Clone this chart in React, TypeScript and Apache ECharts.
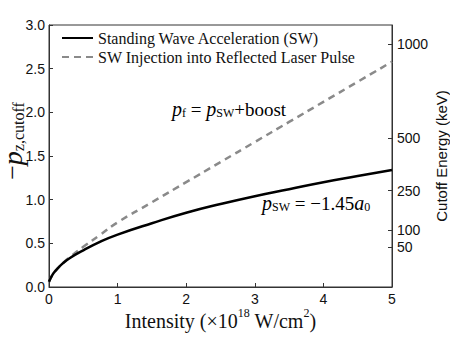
import React, { useEffect, useRef } from "react";
import * as echarts from "echarts";

const intensity = [0, 0.05, 0.1, 0.2, 0.3, 0.5, 0.75, 1, 1.5, 2, 2.5, 3, 3.5, 4, 4.5, 5];
const swValues = [0.06, 0.14, 0.19, 0.27, 0.33, 0.42, 0.52, 0.6, 0.73, 0.85, 0.95, 1.04, 1.12, 1.2, 1.27, 1.34];
const injectionValues = [0.06, 0.14, 0.19, 0.27, 0.34, 0.46, 0.6, 0.74, 0.97, 1.2, 1.43, 1.66, 1.89, 2.12, 2.35, 2.58];
const energyTicks = [50, 100, 250, 500, 1000];
const seriesNames = ["Standing Wave Acceleration (SW)", "SW Injection into Reflected Laser Pulse"];
const REST_ENERGY_KEV = 511;

const energyToMomentum = (e: number) => Math.sqrt(Math.pow(1 + e / REST_ENERGY_KEV, 2) - 1);
const momentumToEnergy = (p: number) => REST_ENERGY_KEV * (Math.sqrt(1 + p * p) - 1);

const SERIF = "'Liberation Serif', 'DejaVu Serif', serif";
const SANS = "'Liberation Sans', Arial, sans-serif";

const mathRich = {
  p: { fontFamily: SERIF, fontSize: 20, fontStyle: "italic", color: "#111", lineHeight: 24, verticalAlign: "bottom" },
  s: { fontFamily: SERIF, fontSize: 12, color: "#111", lineHeight: 19, verticalAlign: "bottom" },
  t: { fontFamily: SERIF, fontSize: 19, color: "#111", lineHeight: 24, verticalAlign: "bottom" },
};

export default function App() {
  const ref = useRef<HTMLDivElement>(null);
  useEffect(() => {
    if (!ref.current) return;
    const chart = echarts.init(ref.current, null, { renderer: "svg" });
    const tickP = energyTicks.map(energyToMomentum);
    chart.setOption({
      animation: false,
      backgroundColor: "#fff",
      textStyle: { fontFamily: SERIF },
      grid: {
        left: 49,
        right: 58,
        top: 25,
        bottom: 52,
        containLabel: false,
        outerBoundsMode: "none",
        show: true,
        borderColor: "#333",
        borderWidth: 1,
        backgroundColor: "transparent",
      },
      legend: {
        orient: "vertical",
        left: 56,
        top: 25,
        itemWidth: 31,
        itemHeight: 10,
        itemGap: 3,
        itemStyle: { opacity: 0 },
        textStyle: { fontFamily: SERIF, fontSize: 16, color: "#111", lineHeight: 14 },
        data: seriesNames,
      },
      xAxis: {
        type: "value",
        min: 0,
        max: 5,
        interval: 1,
        axisLine: { show: true, lineStyle: { color: "#333" } },
        axisTick: { show: true, inside: true, length: 4, lineStyle: { color: "#333" } },
        splitLine: { show: false },
        axisLabel: { fontFamily: SANS, fontSize: 14, color: "#111", margin: 5 },
        name: "{t|Intensity (×10}{sup|18}{t| W/cm}{sup|2}{t|)}",
        nameLocation: "middle",
        nameGap: 20,
        nameMoveOverlap: false,
        nameTextStyle: {
          rich: {
            t: { fontFamily: SERIF, fontSize: 20, color: "#111", lineHeight: 24, verticalAlign: "bottom" },
            sup: { fontFamily: SERIF, fontSize: 12, color: "#111", lineHeight: 24, verticalAlign: "top" },
          },
        },
      },
      yAxis: [
        {
          type: "value",
          min: 0,
          max: 3,
          interval: 0.5,
          axisLine: { show: true, lineStyle: { color: "#333" } },
          axisTick: { show: true, inside: true, length: 4, lineStyle: { color: "#333" } },
          splitLine: { show: false },
          axisLabel: {
            fontFamily: SANS,
            fontSize: 14,
            color: "#111",
            margin: 4,
            formatter: (v: number) => v.toFixed(1),
          },
          name: "{m|−}{p|p}{s|z,cutoff}",
          nameLocation: "middle",
          nameGap: 23,
          nameMoveOverlap: false,
          nameRotate: 90,
          nameTextStyle: {
            padding: [0, 0, 0, 30],
            rich: {
              m: { fontFamily: SERIF, fontSize: 26, color: "#111", lineHeight: 28, verticalAlign: "middle" },
              p: { fontFamily: SERIF, fontSize: 28, fontStyle: "italic", color: "#111", lineHeight: 28, verticalAlign: "middle" },
              s: { fontFamily: SERIF, fontSize: 16, color: "#111", lineHeight: 16, verticalAlign: "bottom", padding: [12, 0, 0, 0] },
            },
          },
        },
        {
          type: "value",
          position: "right",
          min: 0,
          max: 3,
          axisLine: { show: true, lineStyle: { color: "#333" } },
          axisTick: { show: true, inside: true, length: 4, customValues: tickP, lineStyle: { color: "#333" } },
          splitLine: { show: false },
          axisLabel: {
            fontFamily: SANS,
            fontSize: 14,
            color: "#111",
            margin: 5,
            customValues: tickP,
            formatter: (v: number) => {
              const e = momentumToEnergy(v);
              let best = energyTicks[0];
              energyTicks.forEach((t) => {
                if (Math.abs(t - e) < Math.abs(best - e)) best = t;
              });
              return String(best);
            },
          },
          name: "Cutoff Energy (keV)",
          nameLocation: "middle",
          nameGap: 42,
          nameMoveOverlap: false,
          nameRotate: 90,
          nameTextStyle: { fontFamily: SANS, fontSize: 15, color: "#111" },
        },
      ],
      series: [
        {
          name: seriesNames[0],
          type: "line",
          smooth: true,
          symbol: "none",
          data: intensity.map((x, i) => [x, swValues[i]]),
          lineStyle: { color: "#000", width: 2.5 },
          itemStyle: { color: "#000" },
          z: 3,
        },
        {
          name: seriesNames[1],
          type: "line",
          smooth: true,
          symbol: "none",
          data: intensity.map((x, i) => [x, injectionValues[i]]),
          lineStyle: { color: "#8a8a8a", width: 2.5, type: [7, 5] },
          itemStyle: { color: "#8a8a8a" },
          z: 2,
        },
      ],
      graphic: [
        {
          type: "text",
          left: 172,
          top: 99,
          style: { text: "{p|p}{s|f}{t| = }{p|p}{s|SW}{t|+boost}", rich: mathRich },
        },
        {
          type: "text",
          left: 262,
          top: 193,
          style: { text: "{p|p}{s|SW}{t| = −1.45}{p|a}{s|0}", rich: mathRich },
        },
      ],
    });
    return () => chart.dispose();
  }, []);
  return <div ref={ref} style={{ width: 450, height: 339, position: "absolute", left: 0, top: 0 }} />;
}
